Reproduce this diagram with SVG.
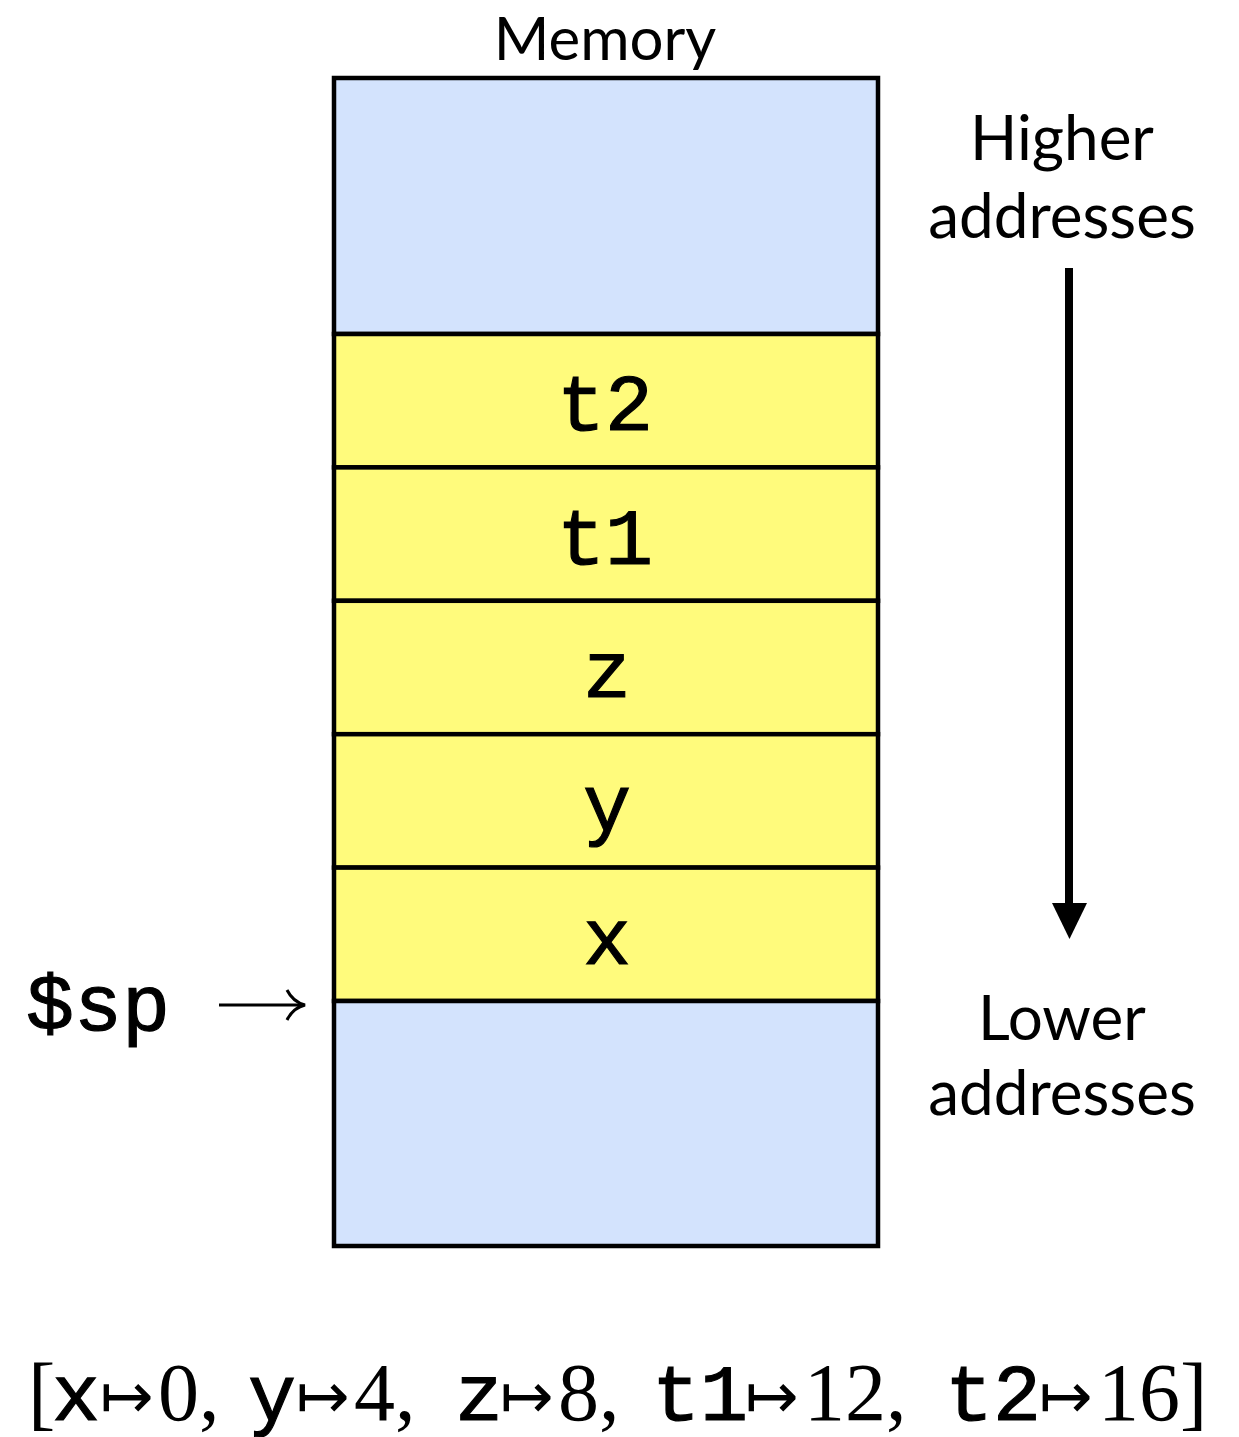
<svg xmlns="http://www.w3.org/2000/svg" width="1239" height="1437" viewBox="0 0 1239 1437">
<style>
.cell{stroke:#000;stroke-width:4.5}
.blue{fill:#d3e3fd}
.yel{fill:#fffb7c}
.mono{font-family:"Liberation Mono","Courier New",monospace;font-weight:normal;fill:#000;stroke:#000;stroke-width:1.2}
.sans{font-family:Lato,"Noto Sans",sans-serif;fill:#000}
.ser{font-family:"Liberation Serif","Times New Roman",serif;fill:#000}
.map{font-family:"DejaVu Sans",sans-serif;fill:#000}
</style>
<rect width="1239" height="1437" fill="#fff"/>
<text class="sans" x="605" y="60" font-size="60" text-anchor="middle">Memory</text>
<g id="top-free"><rect class="cell blue" x="334" y="78" width="544" height="256"/></g>
<g id="t2"><rect class="cell yel" x="334" y="334" width="544" height="133.4"/><text class="mono" x="605" y="430" font-size="80" text-anchor="middle">t2</text></g>
<g id="t1"><rect class="cell yel" x="334" y="467.4" width="544" height="133.4"/><text class="mono" x="605" y="564" font-size="80" text-anchor="middle">t1</text></g>
<g id="z"><rect class="cell yel" x="334" y="600.8" width="544" height="133.4"/><text class="mono" x="607" y="697" font-size="80" text-anchor="middle">z</text></g>
<g id="y"><rect class="cell yel" x="334" y="734.2" width="544" height="133.4"/><text class="mono" x="607" y="830" font-size="80" text-anchor="middle">y</text></g>
<g id="x"><rect class="cell yel" x="334" y="867.6" width="544" height="133.4"/><text class="mono" x="607" y="964" font-size="80" text-anchor="middle">x</text></g>
<g id="bottom-free"><rect class="cell blue" x="334" y="1001" width="544" height="245"/></g>
<g id="higher"><text class="sans" x="1062" y="160" font-size="62" text-anchor="middle">Higher</text><text class="sans" x="1062" y="238" font-size="62" text-anchor="middle">addresses</text></g>
<g id="lower"><text class="sans" x="1062" y="1040" font-size="62" text-anchor="middle">Lower</text><text class="sans" x="1062" y="1115" font-size="62" text-anchor="middle">addresses</text></g>
<g id="sp"><text class="mono" x="26" y="1030" font-size="80">$sp</text></g>
<g id="connectors">
<line x1="1069" y1="268" x2="1069" y2="906" stroke="#000" stroke-width="8"/>
<polygon points="1052,903 1087,903 1069.5,939" fill="#000"/>
<line x1="219" y1="1005" x2="303" y2="1005" stroke="#000" stroke-width="3"/>
<path d="M287,990 Q293,1002 305,1005 Q293,1008 287,1020" fill="none" stroke="#000" stroke-width="3"/>
</g>
<g id="env">
<text class="ser" x="28" y="1420" font-size="82">[</text>
<text class="mono" x="52" y="1420" font-size="80">x</text>
<text class="map" x="100" y="1418" font-size="64">↦</text>
<text class="ser" x="158" y="1420" font-size="82">0,</text>
<text class="mono" x="248" y="1420" font-size="80">y</text>
<text class="map" x="296" y="1418" font-size="64">↦</text>
<text class="ser" x="354" y="1420" font-size="82">4,</text>
<text class="mono" x="455" y="1420" font-size="80">z</text>
<text class="map" x="500" y="1418" font-size="64">↦</text>
<text class="ser" x="558" y="1420" font-size="82">8,</text>
<text class="mono" x="652" y="1420" font-size="80">t1</text>
<text class="map" x="745" y="1418" font-size="64">↦</text>
<text class="ser" x="804" y="1420" font-size="82">12,</text>
<text class="mono" x="945" y="1420" font-size="80">t2</text>
<text class="map" x="1039" y="1418" font-size="64">↦</text>
<text class="ser" x="1098" y="1420" font-size="82">16]</text>
</g>
</svg>
